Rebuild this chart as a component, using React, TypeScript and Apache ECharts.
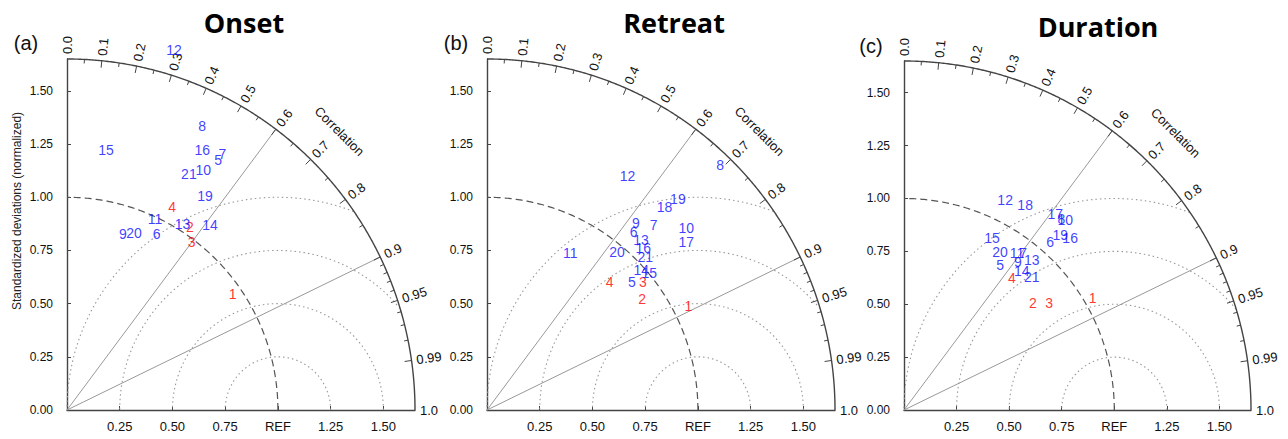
import React, { useEffect, useRef } from 'react';
import * as echarts from 'echarts';

// ---------- data (normalized std components: x = std*corr, y = std*sqrt(1-corr^2)) ----------
const models = ['1','2','3','4','5','6','7','8','9','10','11','12','13','14','15','16','17','18','19','20','21'];
const redModels = ['1', '2', '3', '4'];

const onsetX = [0.785, 0.583, 0.591, 0.499, 0.717, 0.425, 0.737, 0.641, 0.265, 0.646, 0.417, 0.507, 0.548, 0.678, 0.185, 0.641, null, null, 0.654, 0.318, 0.578];
const onsetY = [0.545, 0.861, 0.790, 0.952, 1.177, 0.826, 1.205, 1.333, 0.826, 1.127, 0.897, 1.690, 0.873, 0.869, 1.221, 1.221, null, null, 1.006, 0.831, 1.108];

const retreatX = [0.955, 0.735, 0.739, 0.581, 0.687, 0.695, 0.790, 1.106, 0.706, 0.945, 0.395, 0.666, 0.730, 0.731, 0.769, 0.741, 0.945, 0.842, 0.905, 0.616, 0.750];
const retreatY = [0.488, 0.524, 0.602, 0.602, 0.602, 0.837, 0.869, 1.153, 0.881, 0.856, 0.736, 1.100, 0.798, 0.657, 0.643, 0.761, 0.790, 0.952, 0.991, 0.743, 0.720];

const durationX = [0.897, 0.613, 0.690, 0.513, 0.457, 0.695, 0.567, 0.748, 0.541, 0.767, 0.537, 0.481, 0.608, 0.560, 0.418, 0.790, 0.719, 0.576, 0.743, 0.457, 0.608];
const durationY = [0.528, 0.504, 0.504, 0.623, 0.686, 0.796, 0.742, 0.902, 0.701, 0.898, 0.741, 0.991, 0.709, 0.659, 0.812, 0.812, 0.927, 0.969, 0.827, 0.748, 0.627];

const panelTitles = ['Onset', 'Retreat', 'Duration'];
const panelTags = ['(a)', '(b)', '(c)'];
const stdMax = 1.65;
const stdInterval = 0.25;
const corrMajor = [0.0, 0.1, 0.2, 0.3, 0.4, 0.5, 0.6, 0.7, 0.8, 0.9, 0.95, 0.99, 1.0];
const corrMajorLabels = ['0.0', '0.1', '0.2', '0.3', '0.4', '0.5', '0.6', '0.7', '0.8', '0.9', '0.95', '0.99', '1.0'];
const corrMinor = [0.05, 0.15, 0.25, 0.35, 0.45, 0.55, 0.65, 0.75, 0.85, 0.91, 0.92, 0.93, 0.94, 0.96, 0.97, 0.98];
const rmsRadii = [0.25, 0.5, 0.75, 1.0];
const refCorrLines = [0.6, 0.9];
const yAxisTitle = 'Standardized deviations (normalized)';

const panelX = [onsetX, retreatX, durationX];
const panelY = [onsetY, retreatY, durationY];

// ---------- layout ----------
const grids = [
  { left: 67, top: 59, width: 348, height: 351 },
  { left: 487, top: 59, width: 348, height: 351 },
  { left: 904, top: 61, width: 347, height: 349 },
];
const FONT = 'Liberation Sans, Arial, sans-serif';
const BLUE = '#0c0cff';
const RED = '#ff0000';

function renderDecor(params: any, api: any) {
  const c = (x: number, y: number) => api.coord([x, y]);
  const o = c(0, 0);
  const children: any[] = [];
  // RMS dotted circles centered at REF
  rmsRadii.forEach((r) => {
    const pts: number[][] = [];
    for (let i = 0; i <= 360; i++) {
      const a = (Math.PI * i) / 360;
      const x = 1 + r * Math.cos(a);
      const y = r * Math.sin(a);
      if (Math.hypot(x, y) <= stdMax) pts.push(c(x, y));
    }
    children.push({ type: 'polyline', shape: { points: pts }, style: { stroke: '#999', lineWidth: 1.1, lineDash: [1.5, 3], fill: null } });
  });
  // REF std dashed arc
  const refPts: number[][] = [];
  for (let i = 0; i <= 180; i++) {
    const a = (Math.PI / 2) * (i / 180);
    refPts.push(c(Math.cos(a), Math.sin(a)));
  }
  children.push({ type: 'polyline', shape: { points: refPts }, style: { stroke: '#555', lineWidth: 1.2, lineDash: [7, 4], fill: null } });
  // radial lines
  refCorrLines.forEach((r) => {
    const a = Math.acos(r);
    const p = c(stdMax * Math.cos(a), stdMax * Math.sin(a));
    children.push({ type: 'line', shape: { x1: o[0], y1: o[1], x2: p[0], y2: p[1] }, style: { stroke: '#999', lineWidth: 1 } });
  });
  // outer arc
  const outer: number[][] = [];
  for (let i = 0; i <= 360; i++) {
    const a = (Math.PI / 2) * (i / 360);
    outer.push(c(stdMax * Math.cos(a), stdMax * Math.sin(a)));
  }
  children.push({ type: 'polyline', shape: { points: outer }, style: { stroke: '#444', lineWidth: 1.4, fill: null } });
  const dirAt = (r: number) => {
    const a = Math.acos(r);
    const p = c(stdMax * Math.cos(a), stdMax * Math.sin(a));
    const dx = p[0] - o[0];
    const dy = p[1] - o[1];
    const L = Math.hypot(dx, dy);
    return { p, ux: dx / L, uy: dy / L, a };
  };
  corrMinor.forEach((r) => {
    const { p, ux, uy } = dirAt(r);
    children.push({ type: 'line', shape: { x1: p[0], y1: p[1], x2: p[0] - 4 * ux, y2: p[1] - 4 * uy }, style: { stroke: '#444', lineWidth: 1 } });
  });
  corrMajor.forEach((r, i) => {
    const { p, ux, uy, a } = dirAt(r);
    if (r > 0 && r < 1) {
      children.push({ type: 'line', shape: { x1: p[0], y1: p[1], x2: p[0] - 7 * ux, y2: p[1] - 7 * uy }, style: { stroke: '#444', lineWidth: 1 } });
    }
    children.push({
      type: 'text',
      x: p[0] + 5 * ux,
      y: p[1] + 5 * uy,
      rotation: a,
      style: { text: corrMajorLabels[i], x: 0, y: 0, align: 'left', verticalAlign: 'middle', fill: '#111', fontSize: 13, fontFamily: FONT },
    });
  });
  // "Correlation" title
  const ca = (45.4 * Math.PI) / 180;
  const cp = c(1.84 * Math.cos(ca), 1.84 * Math.sin(ca));
  children.push({
    type: 'text', x: cp[0], y: cp[1], rotation: -Math.PI / 4,
    style: { text: 'Correlation', x: 0, y: 0, align: 'center', verticalAlign: 'middle', fill: '#111', fontSize: 13, fontFamily: FONT },
  });
  return { type: 'group', children };
}

export default function App() {
  const ref = useRef<HTMLDivElement>(null);
  useEffect(() => {
    if (!ref.current) return;
    const chart = echarts.init(ref.current, null, { renderer: 'svg' });
    const xAxes = grids.map((_, i) => ({
      type: 'value', gridIndex: i, min: 0, max: stdMax, interval: stdInterval,
      axisLine: { show: true, lineStyle: { color: '#444', width: 1.4 } },
      axisTick: { show: true, inside: true, length: 4, lineStyle: { color: '#444' } },
      splitLine: { show: false },
      axisLabel: {
        show: true, margin: 10, color: '#111', fontSize: 13, fontFamily: FONT, showMaxLabel: false,
        formatter: (v: number) => (v === 0 || Math.abs(v - stdMax) < 1e-6 ? '' : Math.abs(v - 1) < 1e-6 ? 'REF' : v.toFixed(2)),
      },
    }));
    const yAxes = grids.map((_, i) => ({
      type: 'value', gridIndex: i, min: 0, max: stdMax, interval: stdInterval,
      axisLine: { show: true, lineStyle: { color: '#444', width: 1.4 } },
      axisTick: { show: true, inside: true, length: 4, lineStyle: { color: '#444' } },
      splitLine: { show: false },
      axisLabel: {
        show: true, margin: 14, color: '#111', fontSize: 12, fontFamily: FONT, showMaxLabel: false,
        formatter: (v: number) => (Math.abs(v - stdMax) < 1e-6 ? '' : v.toFixed(2)),
      },
    }));
    const series: any[] = [];
    grids.forEach((_, i) => {
      series.push({
        type: 'custom', xAxisIndex: i, yAxisIndex: i, data: [[0, 0]], renderItem: renderDecor, clip: false, silent: true, z: 1,
      });
      const xs = panelX[i];
      const ys = panelY[i];
      const data: any[] = [];
      models.forEach((m, k) => {
        if (xs[k] == null || ys[k] == null) return;
        data.push({ value: [xs[k], ys[k]], name: m, label: { color: redModels.includes(m) ? RED : BLUE } });
      });
      series.push({
        type: 'scatter', xAxisIndex: i, yAxisIndex: i, data, symbolSize: 1, z: 5,
        itemStyle: { color: 'rgba(0,0,0,0)' },
        label: { show: true, position: 'inside', formatter: (p: any) => p.name, fontSize: 14, fontFamily: FONT },
        clip: false,
      });
    });
    const graphic: any[] = [];
    const titleX = [244, 674, 1098];
    const titleY = [22, 22, 26];
    const tagX = [26, 456, 871];
    const tagY = [43, 43, 46];
    panelTitles.forEach((t, i) => {
      graphic.push({ type: 'text', x: titleX[i], y: titleY[i], style: { text: t, align: 'center', verticalAlign: 'middle', fill: '#000', fontSize: 27, fontWeight: 'bold', fontFamily: 'Open Sans, sans-serif' } });
      graphic.push({ type: 'text', x: tagX[i], y: tagY[i], style: { text: panelTags[i], align: 'center', verticalAlign: 'middle', fill: '#111', fontSize: 20, fontFamily: FONT } });
    });
    graphic.push({ type: 'text', x: 17, y: 211, rotation: Math.PI / 2, style: { text: yAxisTitle, align: 'center', verticalAlign: 'middle', fill: '#222', fontSize: 12, fontFamily: FONT } });
    chart.setOption({
      animation: false,
      backgroundColor: '#fff',
      grid: grids.map((g) => ({ ...g, containLabel: false })),
      xAxis: xAxes,
      yAxis: yAxes,
      series,
      graphic,
    });
    return () => chart.dispose();
  }, []);
  return <div ref={ref} style={{ position: 'fixed', left: 0, top: 0, width: 1288, height: 439, background: '#fff' }} />;
}
